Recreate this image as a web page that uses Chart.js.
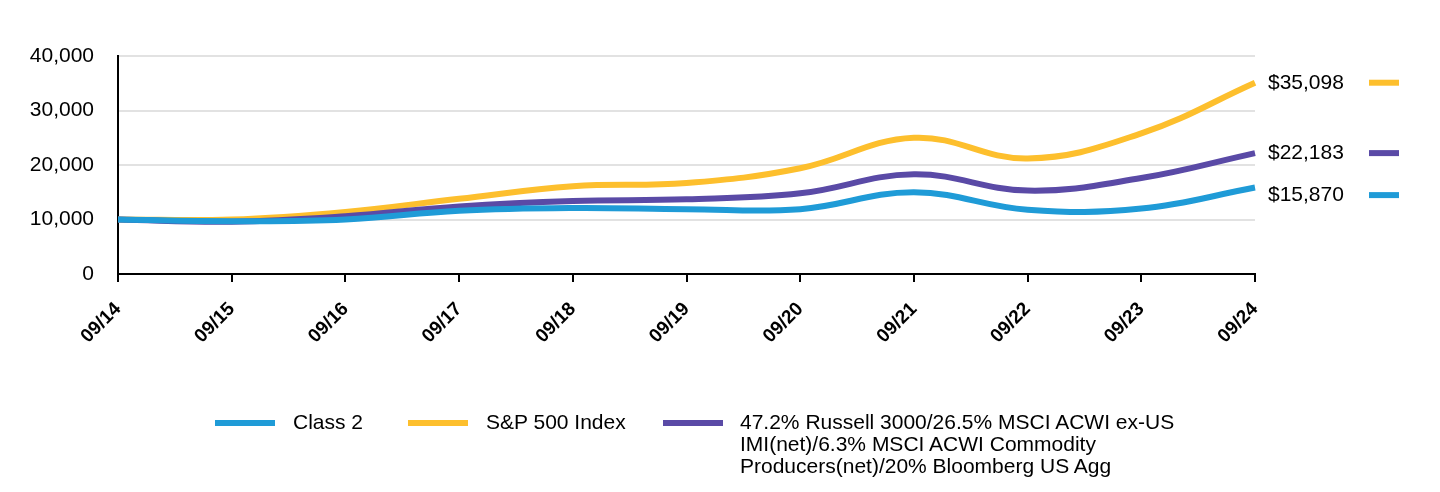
<!DOCTYPE html>
<html>
<head>
<meta charset="utf-8">
<script src="https://cdn.jsdelivr.net/npm/chart.js@4/dist/chart.umd.min.js"></script>
<style>
  html, body { margin: 0; padding: 0; background: #fff; }
  #wrap { position: relative; width: 1440px; height: 492px; }
  #c { position: absolute; left: 0; top: 0; }
  .leg { position: absolute; font-family: "Liberation Sans", Arial, sans-serif; font-size: 21px; line-height: 22px; color: #000; }
  .sw { position: absolute; height: 6px; width: 60px; }
</style>
</head>
<body>
<div id="wrap">
  <canvas id="c" width="1440" height="492"></canvas>
  <div class="sw" style="left:215px;top:420px;background:#1f9bd7"></div>
  <div class="leg" style="left:293px;top:411px">Class 2</div>
  <div class="sw" style="left:408px;top:420px;background:#fdbf2d"></div>
  <div class="leg" style="left:486px;top:411px">S&amp;P 500 Index</div>
  <div class="sw" style="left:663px;top:420px;background:#5a4aa6"></div>
  <div class="leg" style="left:740px;top:411px">47.2% Russell 3000/26.5% MSCI ACWI ex-US<br>IMI(net)/6.3% MSCI ACWI Commodity<br>Producers(net)/20% Bloomberg US Agg</div>
</div>
<script>
const categories = ["09/14","09/15","09/16","09/17","09/18","09/19","09/20","09/21","09/22","09/23","09/24"];
const classTwo  = [10000, 9700, 10000, 11600, 12100, 11900, 11900, 15000, 11800, 12000, 15870];
const sp500     = [10000, 10000, 11400, 13800, 16100, 16700, 19400, 25000, 21200, 25800, 35098];
const composite = [10000, 9600, 10600, 12400, 13400, 13700, 14800, 18300, 15300, 17600, 22183];
const yTicks    = [0, 10000, 20000, 30000, 40000];
const endLabels = ["$15,870", "$35,098", "$22,183"];

const seriesColors = ["#1f9bd7", "#fdbf2d", "#5a4aa6"];
const FONT = '"Liberation Sans", Arial, sans-serif';

const endLabelPlugin = {
  id: 'endLabels',
  afterDraw(chart) {
    const ctx = chart.ctx;
    const y = chart.scales.y;
    const items = chart.data.datasets.map((ds, i) => ({
      y: y.getPixelForValue(ds.data[ds.data.length - 1]),
      text: endLabels[i],
      color: ds.borderColor
    })).sort((a, b) => a.y - b.y);
    for (let i = 1; i < items.length; i++) {
      if (items[i].y - items[i - 1].y < 42) items[i].y = items[i - 1].y + 42;
    }
    ctx.save();
    ctx.font = '21px ' + FONT;
    ctx.textAlign = 'left';
    ctx.textBaseline = 'middle';
    items.forEach(it => {
      ctx.fillStyle = '#000';
      ctx.fillText(it.text, chart.chartArea.right + 13, it.y);
      ctx.strokeStyle = it.color;
      ctx.lineWidth = 6;
      ctx.beginPath();
      ctx.moveTo(1369, it.y);
      ctx.lineTo(1399, it.y);
      ctx.stroke();
    });
    ctx.restore();
  }
};

new Chart(document.getElementById('c'), {
  type: 'line',
  data: {
    labels: categories,
    datasets: [
      { label: 'Class 2', data: classTwo, borderColor: seriesColors[0], order: 0 },
      { label: 'S&P 500 Index', data: sp500, borderColor: seriesColors[1], order: 2 },
      { label: 'Composite', data: composite, borderColor: seriesColors[2], order: 1 }
    ]
  },
  options: {
    responsive: false,
    animation: false,
    devicePixelRatio: 1,
    elements: {
      line: { borderWidth: 6, tension: 0.4, fill: false, borderCapStyle: 'butt' },
      point: { radius: 0, hoverRadius: 0 }
    },
    layout: { padding: { top: 56, right: 185, bottom: 0, left: 0 } },
    plugins: { legend: { display: false }, tooltip: { enabled: false } },
    scales: {
      x: {
        offset: false,
        grid: { display: true, drawOnChartArea: false, drawTicks: true, tickLength: 8, tickColor: '#000', lineWidth: 2 },
        border: { color: '#000', width: 2 },
        ticks: { color: '#000', font: { family: FONT, size: 19, weight: 'bold' }, maxRotation: 45, minRotation: 45, padding: 16, autoSkip: false },
        afterFit(s) { s.height = 492 - 274; }
      },
      y: {
        min: 0, max: 40000,
        afterBuildTicks(s) { s.ticks = yTicks.map(v => ({ value: v })); },
        grid: { color: '#e2e2e2', lineWidth: 2, drawTicks: false },
        border: { color: '#000', width: 2 },
        ticks: { color: '#000', font: { family: FONT, size: 21 }, padding: 24,
          callback: v => v.toLocaleString('en-US') },
        afterFit(s) { s.width = 118; }
      }
    }
  },
  plugins: [endLabelPlugin]
});
</script>
</body>
</html>
